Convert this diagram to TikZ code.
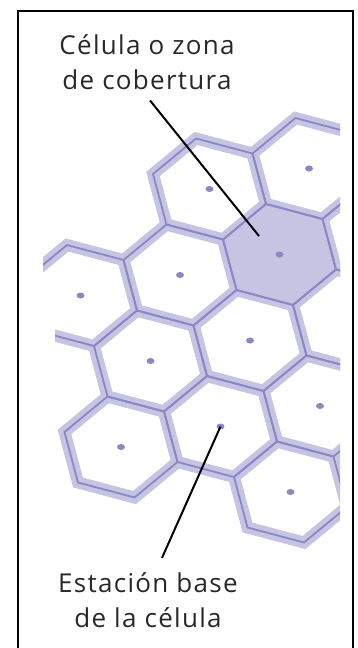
\documentclass[tikz,border=0pt]{standalone}
\usepackage{fontspec}
\setmainfont[LetterSpace=5]{Open Sans}
\usetikzlibrary{shapes.geometric}

\definecolor{cellband}{RGB}{198,196,227}
\definecolor{celledge}{RGB}{140,135,196}
\definecolor{notetext}{RGB}{40,40,40}

\begin{document}
\begin{tikzpicture}[
    x=1pt, y=-1pt,
    band/.style={draw=cellband, line width=12pt},
    edge/.style={draw=celledge, line width=1.8pt},
    covered/.style={fill=cellband},
    bsdot/.style={ellipse, fill=celledge, inner sep=0pt, minimum width=8pt, minimum height=6pt},
    note/.style={align=center, inner sep=0pt, text=notetext, font=\fontsize{26}{35}\selectfont},
    leader/.style={draw=black, line width=2pt}
]
    \useasboundingbox (0,0) rectangle (358,648);
    \draw[line width=2pt] (17.5,11) rectangle (352.5,650);

    % cells, clipped to the panel
    \begin{scope}
        \clip (43,100) -- (340,100) -- (340,600) -- (55,600) -- (55,300) -- (43,300) -- cycle;
        \begin{scope}[shift={(180,275)}, x={(99.5pt,20.5pt)}, y={(-29.5pt,-86pt)}]
            \fill[covered] (1+2/3,1/3) -- (1+1/3,2/3) -- (1-1/3,1/3) -- (1-2/3,-1/3) -- (1-1/3,-2/3) -- (1+1/3,-1/3) -- cycle;
            \foreach \i/\j in {0/-1,1/-1,-1/0,0/0,1/0,2/0,0/1,1/1,2/1,0/2,1/2,2/2,2/3}
                \draw[band] (\i+2/3,\j+1/3) -- (\i+1/3,\j+2/3) -- (\i-1/3,\j+1/3) -- (\i-2/3,\j-1/3) -- (\i-1/3,\j-2/3) -- (\i+1/3,\j-1/3) -- cycle;
            \foreach \i/\j in {0/-1,1/-1,-1/0,0/0,1/0,2/0,0/1,1/1,2/1,0/2,1/2,2/2,2/3}
                \draw[edge] (\i+2/3,\j+1/3) -- (\i+1/3,\j+2/3) -- (\i-1/3,\j+1/3) -- (\i-2/3,\j-1/3) -- (\i-1/3,\j-2/3) -- (\i+1/3,\j-1/3) -- cycle;
            % base stations
            \foreach \i/\j in {0/-1,1/-1,-1/0,0/0,1/0,0/1,1/1,0/2,1/2,2/2,2/3}
                \node[bsdot] (bs\i\j) at (\i,\j) {};
        \end{scope}
    \end{scope}

    \node[note, anchor=base] (cellnote) at (147,89) {Célula o zona\\de cobertura};
    \node[note, anchor=base] (bsnote) at (148,627) {Estación base\\de la célula};

    \coordinate (cellpt) at (259,236);
    \draw[leader] ([xshift=3pt,yshift=-11pt]cellnote.south) -- (cellpt);
    \draw[leader] (bs12.center) -- ([xshift=14pt,yshift=14pt]bsnote.north);
\end{tikzpicture}
\end{document}
